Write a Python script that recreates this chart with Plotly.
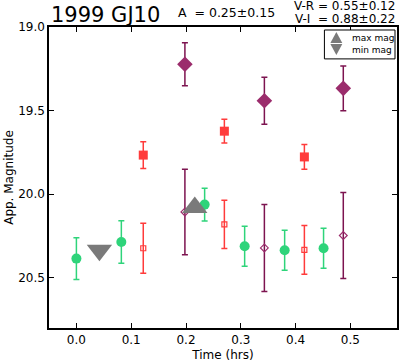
import plotly.graph_objects as go

# Green circles
g_t = [0.0, 0.082, 0.234, 0.307, 0.380, 0.451]
g_m = [20.385, 20.286, 20.062, 20.311, 20.335, 20.323]
g_e = [0.125, 0.127, 0.098, 0.120, 0.120, 0.120]

# Red filled squares
rf_t = [0.122, 0.270, 0.416]
rf_m = [19.766, 19.623, 19.777]
rf_e = [0.080, 0.071, 0.074]

# Red open squares
ro_t = [0.122, 0.270, 0.416]
ro_m = [20.323, 20.180, 20.333]
ro_e = [0.149, 0.144, 0.146]

# Purple filled diamonds
pf_t = [0.198, 0.343, 0.487]
pf_m = [19.223, 19.441, 19.367]
pf_e = [0.129, 0.140, 0.134]

# Purple open diamonds
po_t = [0.198, 0.343, 0.487]
po_m = [20.106, 20.321, 20.247]
po_e = [0.256, 0.260, 0.257]

# max / min magnitude markers
max_t, max_m = [0.216], [20.08]
min_t, min_m = [0.042], [20.335]

xticks = [0.0, 0.1, 0.2, 0.3, 0.4, 0.5]
yticks = [19.0, 19.5, 20.0, 20.5]
legend_labels = ["max mag", "min mag"]

GREEN = "#2ed47a"
RED = "#ff3b3b"
PURP = "#9b2c6c"
PURP_E = "#7d1450"
GRAY = "#7a7a7a"
FONT = "DejaVu Sans"

W, H = 401, 362
ML, MR, MT, MB = 49, 2, 27, 33
PW, PH = W - ML - MR, H - MT - MB

def px(x):
    return (x - ML) / PW

def py(y):
    return 1 - (y - MT) / PH

fig = go.Figure()

def add(t, m, e, color, ecolor, symbol, size, lw=0):
    fig.add_trace(go.Scatter(
        x=t, y=m, mode="markers", showlegend=False,
        marker=dict(symbol=symbol, size=size, color=color,
                    line=dict(width=lw, color=color)),
        error_y=dict(type="data", array=e, visible=True, color=ecolor,
                     thickness=1.5, width=3),
    ))

add(g_t, g_m, g_e, GREEN, GREEN, "circle", 10)
add(rf_t, rf_m, rf_e, RED, RED, "square", 9)
add(ro_t, ro_m, ro_e, RED, RED, "square-open", 5, 1.2)
add(pf_t, pf_m, pf_e, PURP, PURP_E, "diamond", 12)
add(po_t, po_m, po_e, PURP, PURP_E, "diamond-open", 6, 1.2)

fig.add_trace(go.Scatter(x=max_t, y=max_m, mode="markers", name=legend_labels[0],
                         showlegend=False,
                         marker=dict(symbol="triangle-up", size=22, color=GRAY)))
fig.add_trace(go.Scatter(x=min_t, y=min_m, mode="markers", name=legend_labels[1],
                         showlegend=False,
                         marker=dict(symbol="triangle-down", size=22, color=GRAY)))

axis_common = dict(showline=True, linecolor="black", linewidth=1.5, mirror="allticks",
                   ticks="inside", ticklen=5, tickcolor="black", showgrid=False,
                   zeroline=False, tickfont=dict(family=FONT, size=12, color="black"))

fig.update_xaxes(range=[-0.05, 0.585], tickvals=xticks,
                 ticktext=[f"{v:.1f}" for v in xticks],
                 title=dict(text="Time (hrs)", font=dict(family=FONT, size=12, color="black"),
                            standoff=4),
                 **axis_common)
fig.update_yaxes(range=[20.8, 19.0], tickvals=yticks,
                 ticktext=[f"{v:.1f}" for v in yticks],
                 title=dict(text="App. Magnitude", font=dict(family=FONT, size=12, color="black"),
                            standoff=2),
                 **axis_common)

# manual legend box (matplotlib style)
shapes = [
    dict(type="rect", xref="paper", yref="paper", x0=px(326), x1=px(397),
         y0=py(59), y1=py(30), line=dict(color="black", width=1), fillcolor="white",
         layer="above"),
    dict(type="path", xref="paper", yref="paper", layer="above",
         path=f"M {px(332)},{py(43)} L {px(344)},{py(43)} L {px(338)},{py(32)} Z",
         fillcolor=GRAY, line=dict(width=0)),
    dict(type="path", xref="paper", yref="paper", layer="above",
         path=f"M {px(332)},{py(44)} L {px(344)},{py(44)} L {px(338)},{py(55)} Z",
         fillcolor=GRAY, line=dict(width=0)),
]

fig.update_layout(
    width=W, height=H,
    margin=dict(l=ML, r=MR, t=MT, b=MB),
    plot_bgcolor="white", paper_bgcolor="white",
    font=dict(family=FONT, color="black"),
    showlegend=False,
    shapes=shapes,
)
fig.add_annotation(text=legend_labels[0], x=px(352), y=py(38), xref="paper", yref="paper",
                   xanchor="left", yanchor="middle", showarrow=False,
                   font=dict(family=FONT, size=9, color="black"))
fig.add_annotation(text=legend_labels[1], x=px(352), y=py(50), xref="paper", yref="paper",
                   xanchor="left", yanchor="middle", showarrow=False,
                   font=dict(family=FONT, size=9, color="black"))
fig.add_annotation(text="1999 GJ10", x=0, y=1, xref="paper", yref="paper",
                   xanchor="left", yanchor="bottom", yshift=-2, showarrow=False,
                   font=dict(family=FONT, size=21, color="black"))
fig.add_annotation(text="A  = 0.25±0.15", x=px(228), y=1, xref="paper", yref="paper",
                   yanchor="bottom", yshift=5, showarrow=False,
                   font=dict(family=FONT, size=12.5, color="black"))
fig.add_annotation(text="V-R = 0.55±0.12", x=1, y=1, xref="paper", yref="paper",
                   xanchor="right", yanchor="bottom", yshift=12, showarrow=False,
                   font=dict(family=FONT, size=12, color="black"))
fig.add_annotation(text="V-I  = 0.88±0.22", x=1, y=1, xref="paper", yref="paper",
                   xanchor="right", yanchor="bottom", yshift=-1, showarrow=False,
                   font=dict(family=FONT, size=12, color="black"))

fig.write_html("out.html", config={"displayModeBar": False},
               post_script="document.body.style.margin='0';")
